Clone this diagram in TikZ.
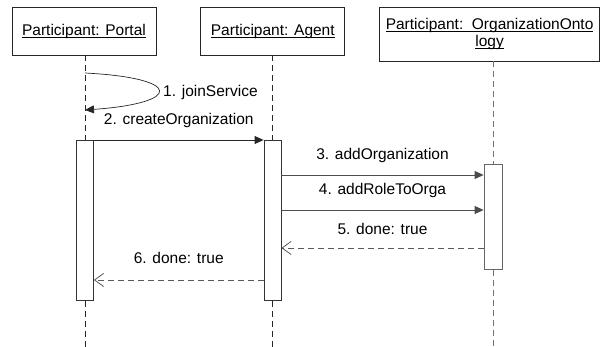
\documentclass[tikz,border=0pt]{standalone}
\usepackage{fontspec}
\setmainfont{Liberation Sans}
\usetikzlibrary{arrows.meta,positioning}
\newcommand{\msgfont}{\fontsize{15.5}{17}\selectfont}
\newcommand{\ulabel}[1]{\leavevmode\setbox0\hbox{#1}\rlap{\vrule height -1.6pt depth 2.5pt width \wd0}\box0}
\tikzset{
    %Define standard arrow tip
    >={Triangle[length=9pt,width=8pt]},
    %Define style for participant boxes
    participant/.style={
           rectangle,
           draw=black!85, line width=.8pt,
           minimum width=144pt,
           minimum height=48pt,
           inner sep=2pt,
           font=\msgfont,
           align=center},
    %Define style for activation bars
    activation/.style={
           rectangle,
           draw=black!80, line width=.8pt,
           fill=white,
           minimum width=17pt,
           inner sep=0pt},
    % Define lifeline style
    lifeline/.style={
           draw=black!85, line width=.8pt,
           dash pattern=on 6pt off 4pt},
    % Define message styles
    call/.style={
           ->, draw=black!85, line width=.8pt},
    reply/.style={
           -{Straight Barb[length=9pt,width=13pt]},
           draw=black!65, line width=.8pt,
           dash pattern=on 6pt off 4pt},
    msg/.style={
           midway, yshift=20pt, font=\msgfont, inner sep=0pt, text=black}
}

\begin{document}
\begin{tikzpicture}[x=1pt,y=-1pt]
\useasboundingbox (0,0) rectangle (606,347);
% participants
\node[participant](pbox) at (84,31){\ulabel{Participant: Portal}};
\node[participant, right=44pt of pbox](abox){\ulabel{Participant: Agent}};
\node[participant, minimum width=220pt, minimum height=54pt, anchor=north west](obox)
     at ([xshift=34pt]abox.north east){\ulabel{Participant:\ \ OrganizationOnto}\\\ulabel{logy}};

% activation bars
\node[activation, minimum height=160pt, anchor=north](pact) at (85,140){};
\node[activation, minimum height=160pt, anchor=north](aact) at (272.5,140){};
\node[activation, minimum height=105pt, minimum width=18pt, anchor=north, draw=black!60](oact) at (493,164){};

% lifelines
\coordinate (pend) at (85,347);
\coordinate (aend) at (272.5,347);
\coordinate (oend) at (493,347);
\draw[lifeline] (pact.north |- pbox.south) -- (pact.north);
\draw[lifeline] (pact.south) -- (pend);
\draw[lifeline] (aact.north |- abox.south) -- (aact.north);
\draw[lifeline] (aact.south) -- (aend);
\draw[lifeline, draw=black!55] (oact.north |- obox.south) -- (oact.north);
\draw[lifeline, draw=black!55] (oact.south) -- (oend);

% self call
\coordinate (j1) at (85,73);
\coordinate (j2) at (85,110);
\draw[call, line width=.7pt] (j1) .. controls (183,78) and (183,103) .. (j2);
\node[font=\msgfont, inner sep=0pt, anchor=west](l1) at (163,92){1. joinService};

% messages
\draw[call] (pact.north east) -- (aact.north west) node[msg]{2. createOrganization};
\draw[call, draw=black!70] ([yshift=-35pt]aact.north east) -- ([yshift=-35pt]aact.north east -| oact.west)
      node[msg]{3. addOrganization};
\draw[call, draw=black!70] ([yshift=-70pt]aact.north east) -- ([yshift=-70pt]aact.north east -| oact.west)
      node[msg]{4. addRoleToOrga};
\draw[reply] ([yshift=-84pt]oact.north west) -- ([yshift=-84pt]oact.north west -| aact.east)
      node[msg, yshift=-1pt]{5. done: true};
\draw[reply] ([yshift=-140pt]aact.north west) -- ([yshift=-140pt]aact.north west -| pact.east)
      node[msg, yshift=2pt]{6. done: true};
\end{tikzpicture}
\end{document}
